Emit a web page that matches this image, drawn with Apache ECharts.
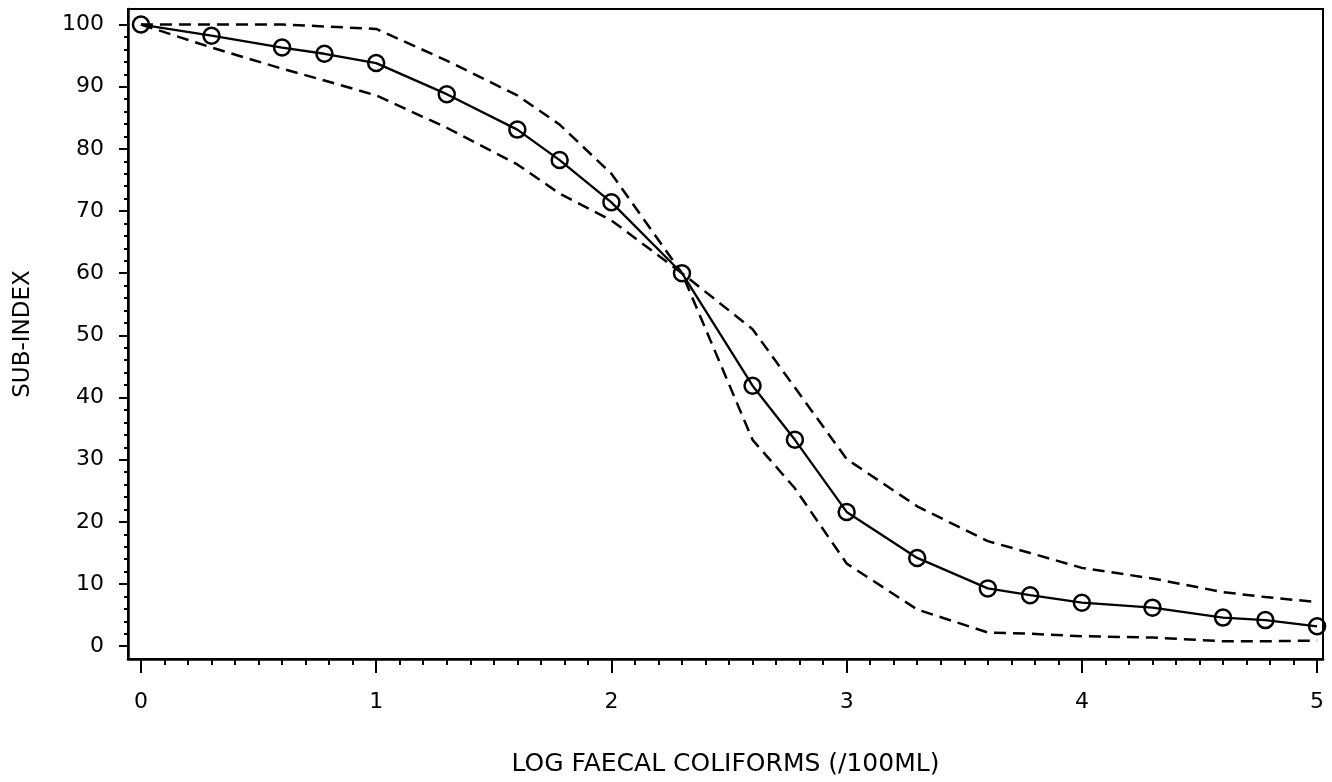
<!DOCTYPE html>
<html>
<head>
<meta charset="utf-8">
<script src="https://cdn.jsdelivr.net/npm/echarts@6/dist/echarts.min.js"></script>
<style>
  html, body { margin: 0; padding: 0; background: #fff; }
  #chart { width: 1332px; height: 782px; }
</style>
</head>
<body>
<div id="chart"></div>
<script>
// Log10 of faecal coliform counts (/100 mL)
const logFC = [0, 0.30, 0.60, 0.78, 1.0, 1.30, 1.60, 1.78, 2.0, 2.30, 2.60, 2.78, 3.0, 3.30, 3.60, 3.78, 4.0, 4.30, 4.60, 4.78, 5.0];
// Mean sub-index curve (circles)
const meanIndex = [100, 98.2, 96.3, 95.3, 93.8, 88.8, 83.1, 78.2, 71.4, 60.0, 41.9, 33.2, 21.6, 14.2, 9.3, 8.2, 7.0, 6.2, 4.6, 4.2, 3.2];
// Upper dashed envelope
const upperIndex = [100, 100, 100, 99.7, 99.3, 94.2, 88.6, 83.9, 76.0, 60.0, 51.0, 41.6, 30.1, 22.5, 16.9, 15.0, 12.6, 10.9, 8.7, 7.9, 7.1];
// Lower dashed envelope
const lowerIndex = [100, 96.3, 92.9, 91.0, 88.6, 83.4, 77.5, 72.8, 68.5, 60.0, 33.2, 25.4, 13.3, 5.9, 2.2, 2.0, 1.6, 1.4, 0.8, 0.8, 0.9];

// Tick values
const xMajorTicks = [0, 1, 2, 3, 4, 5];
const yMajorTicks = [0, 10, 20, 30, 40, 50, 60, 70, 80, 90, 100];
const xMinorTicks = [];
for (let i = 0; i <= 50; i++) xMinorTicks.push(i / 10);
const yMinorTicks = [];
for (let i = 0; i <= 50; i++) yMinorTicks.push(i * 2);

const xTitle = 'LOG FAECAL COLIFORMS (/100ML)';
const yTitle = 'SUB-INDEX';

const X_MIN = -0.055, X_MAX = 5.025, Y_MIN = -2.06, Y_MAX = 102.5;
const FONT = 'DejaVu Sans';

function pairs(ys) { return logFC.map((x, i) => [x, ys[i]]); }

const chart = echarts.init(document.getElementById('chart'), null, { renderer: 'canvas' });
chart.setOption({
  animation: false,
  backgroundColor: '#fff',
  grid: {
    left: 128, right: 9, top: 9, bottom: 112,
    show: true, borderColor: '#000', borderWidth: 2, backgroundColor: 'transparent'
  },
  xAxis: [
    {
      type: 'value', min: X_MIN, max: X_MAX, position: 'bottom',
      axisLine: { show: true, onZero: false, lineStyle: { color: '#000', width: 2.5 } },
      axisTick: { show: true, customValues: xMajorTicks, length: 14, lineStyle: { color: '#000', width: 2 } },
      axisLabel: { show: true, customValues: xMajorTicks, margin: 32, fontSize: 22, color: '#000', fontFamily: FONT },
      splitLine: { show: false },
      name: xTitle, nameLocation: 'middle', nameGap: 93,
      nameTextStyle: { fontSize: 25, color: '#000', fontFamily: FONT }
    },
    {
      type: 'value', min: X_MIN, max: X_MAX, position: 'bottom',
      axisLine: { show: false, onZero: false },
      axisTick: { show: true, customValues: xMinorTicks, length: 6, lineStyle: { color: '#000', width: 2 } },
      axisLabel: { show: false },
      splitLine: { show: false }
    }
  ],
  yAxis: [
    {
      type: 'value', min: Y_MIN, max: Y_MAX, position: 'left',
      axisLine: { show: true, onZero: false, lineStyle: { color: '#000', width: 2.5 } },
      axisTick: { show: true, customValues: yMajorTicks, length: 9, lineStyle: { color: '#000', width: 2 } },
      axisLabel: { show: true, customValues: yMajorTicks, margin: 24, fontSize: 22, color: '#000', fontFamily: FONT },
      splitLine: { show: false },
      name: yTitle, nameLocation: 'middle', nameGap: 93, nameRotate: 90,
      nameTextStyle: { fontSize: 23, color: '#000', fontFamily: FONT }
    },
    {
      type: 'value', min: Y_MIN, max: Y_MAX, position: 'left',
      axisLine: { show: false, onZero: false },
      axisTick: { show: true, customValues: yMinorTicks, length: 4, lineStyle: { color: '#000', width: 2 } },
      axisLabel: { show: false },
      splitLine: { show: false }
    }
  ],
  series: [
    {
      name: 'upper', type: 'line', xAxisIndex: 0, yAxisIndex: 0,
      data: pairs(upperIndex), symbol: 'none',
      lineStyle: { color: '#000', width: 2.5, type: [12, 7] }, z: 2
    },
    {
      name: 'lower', type: 'line', xAxisIndex: 0, yAxisIndex: 0,
      data: pairs(lowerIndex), symbol: 'none',
      lineStyle: { color: '#000', width: 2.5, type: [12, 7] }, z: 2
    },
    {
      name: 'mean', type: 'line', xAxisIndex: 0, yAxisIndex: 0,
      data: pairs(meanIndex), symbol: 'circle', symbolSize: 16,
      lineStyle: { color: '#000', width: 2.3 },
      itemStyle: { color: 'rgba(0,0,0,0)', borderColor: '#000', borderWidth: 2.5 }, z: 3
    }
  ]
});
</script>
</body>
</html>
